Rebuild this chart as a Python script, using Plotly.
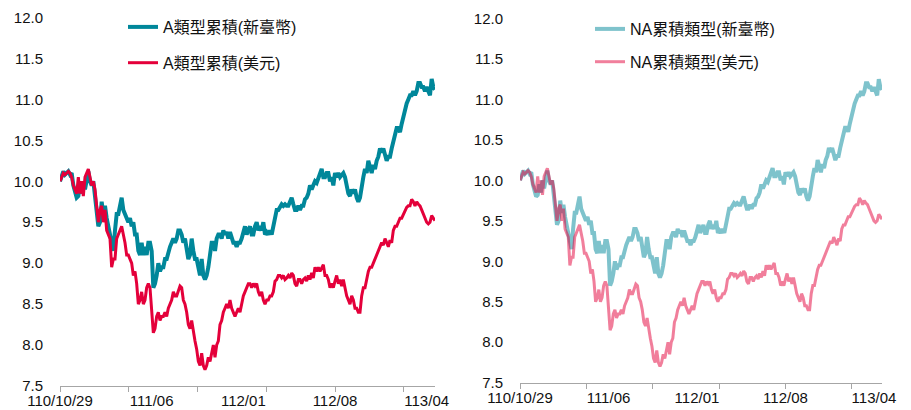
import plotly.graph_objects as go

a_twd = [
    10.0, 10.05, 10.12, 10.08, 10.1, 10.12, 10.08, 10.1, 9.95, 9.85,
    9.8, 9.82, 9.95, 9.85, 10.0, 9.9, 10.05, 10.12, 10.0, 9.95,
    10.0, 9.8, 9.6, 9.45, 9.5, 9.75, 9.6, 9.7, 9.55, 9.45,
    9.35, 9.3, 9.15, 9.4, 9.6, 9.6, 9.7, 9.8, 9.65, 9.6,
    9.55, 9.5, 9.55, 9.45, 9.5, 9.35, 9.35, 9.15, 9.1, 9.25,
    9.1, 9.2, 9.1, 9.25, 9.25, 9.15, 8.7, 8.75, 8.85, 9.0,
    8.9, 8.95, 8.95, 9.05, 9.05, 9.15, 9.2, 9.25, 9.3, 9.25,
    9.3, 9.4, 9.4, 9.35, 9.25, 9.3, 9.15, 9.05, 9.1, 9.3,
    9.15, 9.05, 9.05, 8.95, 8.85, 9.05, 8.85, 8.8, 8.85, 8.95,
    9.15, 9.25, 9.25, 9.15, 9.3, 9.35, 9.35, 9.3, 9.4, 9.35,
    9.38, 9.3, 9.38, 9.3, 9.25, 9.25, 9.2, 9.25, 9.25, 9.3,
    9.4, 9.45, 9.35, 9.4, 9.45, 9.35, 9.35, 9.45, 9.5, 9.4,
    9.45, 9.4, 9.5, 9.35, 9.38, 9.35, 9.4, 9.35, 9.45, 9.6,
    9.65, 9.65, 9.7, 9.72, 9.7, 9.72, 9.7, 9.7, 9.75, 9.8,
    9.72, 9.65, 9.65, 9.7, 9.65, 9.7, 9.7, 9.78, 9.8, 9.85,
    9.95, 9.9, 9.95, 10.0, 9.98, 10.05, 10.1, 10.15, 10.05, 10.05,
    10.1, 10.1, 10.0, 10.05, 9.95, 10.1, 10.05, 10.1, 10.05, 10.08,
    10.1, 10.05, 9.95, 9.85, 9.82, 9.9, 9.85, 9.9, 9.8, 9.75,
    9.8, 9.95, 10.05, 10.15, 10.1, 10.25, 10.15, 10.1, 10.2, 10.15,
    10.25, 10.3, 10.4, 10.35, 10.4, 10.3, 10.25, 10.3, 10.3, 10.4,
    10.5, 10.6, 10.65, 10.65, 10.6, 10.7, 10.8, 10.85, 10.95, 11.0,
    11.05, 11.05, 11.1, 11.05, 11.1, 11.2, 11.2, 11.15, 11.15, 11.1,
    11.15, 11.1, 11.05, 11.25, 11.15, 11.12,
]
a_usd = [
    10.0, 10.05, 10.1, 10.08, 10.1, 10.12, 10.1, 10.05, 9.95, 9.9,
    9.85, 10.05, 9.85, 10.0, 9.82, 10.05, 10.1, 10.15, 10.05, 9.95,
    10.0, 9.9, 9.7, 9.5, 9.65, 9.7, 9.5, 9.65, 9.4, 9.35,
    9.3, 8.95, 9.05, 9.05, 9.3, 9.35, 9.4, 9.45, 9.35, 9.25,
    9.1, 9.1, 9.05, 9.0, 8.85, 8.9, 8.75, 8.5, 8.55, 8.65,
    8.5, 8.55, 8.7, 8.75, 8.7, 8.4, 8.15, 8.2, 8.35, 8.4,
    8.3, 8.35, 8.35, 8.4, 8.35, 8.45, 8.5, 8.55, 8.65, 8.6,
    8.6, 8.65, 8.72, 8.7, 8.55, 8.5, 8.4, 8.25, 8.2, 8.3,
    8.15, 8.05, 7.95, 7.8, 7.75, 7.9, 7.75, 7.7, 7.75, 7.85,
    7.8, 7.9, 8.0, 7.85, 8.0, 8.05, 8.25, 8.3, 8.4, 8.45,
    8.5, 8.45, 8.55, 8.45, 8.4, 8.35, 8.4, 8.45, 8.4, 8.5,
    8.6, 8.65, 8.7, 8.75, 8.75, 8.7, 8.75, 8.72, 8.75, 8.65,
    8.6, 8.65, 8.55, 8.5, 8.55, 8.55, 8.6, 8.6, 8.65, 8.78,
    8.8, 8.85, 8.85, 8.82, 8.85, 8.8, 8.82, 8.85, 8.82, 8.88,
    8.85, 8.75, 8.72, 8.8, 8.8, 8.75, 8.8, 8.82, 8.78, 8.85,
    8.8, 8.88, 8.82, 8.95, 8.9, 8.95, 8.9, 8.95, 8.98, 8.85,
    8.85, 8.8, 8.7, 8.75, 8.7, 8.78, 8.85, 8.75, 8.8, 8.72,
    8.8, 8.7, 8.6, 8.55, 8.5, 8.6, 8.55, 8.45, 8.45, 8.4,
    8.4, 8.6, 8.7, 8.7, 8.8, 8.9, 8.95, 8.95, 9.0, 9.05,
    9.1, 9.15, 9.2, 9.25, 9.22, 9.3, 9.25, 9.2, 9.28, 9.25,
    9.4, 9.45, 9.45, 9.5, 9.55, 9.55, 9.6, 9.65, 9.68, 9.7,
    9.7, 9.78, 9.75, 9.7, 9.75, 9.72, 9.7, 9.65, 9.6, 9.55,
    9.5, 9.48, 9.5, 9.58, 9.55, 9.52,
]
# the NA share classes track the A share classes on the chart
na_twd = list(a_twd)
na_usd = list(a_usd)

x_labels = ["110/10/29", "111/06", "112/01", "112/08", "113/04"]
label_idx = [0, 55, 110, 165, 220]
tick_idx = [0, 41.25, 82.5, 123.75, 165, 206.25]

TEAL = "#00879A"
RED = "#E4003A"
FONT = "Arial, Liberation Sans, Noto Sans CJK TC, sans-serif"

xs = list(range(len(a_twd)))

fig = go.Figure()
fig.add_trace(go.Scatter(x=xs, y=a_twd, mode="lines", name="A類型累積(新臺幣)",
                         line=dict(color=TEAL, width=4), xaxis="x", yaxis="y",
                         legend="legend", legendgroup="g1"))
fig.add_trace(go.Scatter(x=xs, y=a_usd, mode="lines", name="A類型累積(美元)",
                         line=dict(color=RED, width=3), xaxis="x", yaxis="y",
                         legend="legend", legendgroup="g2"))
fig.add_trace(go.Scatter(x=xs, y=na_twd, mode="lines", name="NA累積類型(新臺幣)",
                         line=dict(color=TEAL, width=4), opacity=0.5,
                         xaxis="x2", yaxis="y2", legend="legend2", legendgroup="g3"))
fig.add_trace(go.Scatter(x=xs, y=na_usd, mode="lines", name="NA累積類型(美元)",
                         line=dict(color=RED, width=3), opacity=0.5,
                         xaxis="x2", yaxis="y2", legend="legend2", legendgroup="g4"))

# page has an 8px body margin; figure sized so it fills the 911x410 window
W, H = 903, 402
OFF = 8


def px(v):
    return (v - OFF) / W


def py(v):
    return (H - (v - OFF)) / H


def xaxis(domain, anchor):
    return dict(
        domain=domain, anchor=anchor, range=[0, len(a_twd) - 1],
        tickmode="array", tickvals=label_idx, ticktext=x_labels,
        ticks="", showgrid=False, zeroline=False, automargin=False,
        showline=True, linecolor="#A6A6A6", linewidth=1,
        ticklabelstandoff=1,
        tickfont=dict(size=15, color="#111111", family=FONT),
        minor=dict(tickmode="array", tickvals=tick_idx, ticks="outside",
                   ticklen=5, tickcolor="#A6A6A6", tickwidth=1, showgrid=False),
        fixedrange=True,
    )


def yaxis(domain, anchor):
    return dict(
        domain=domain, anchor=anchor, range=[7.5, 12.0], dtick=0.5,
        tick0=7.5, tickformat=".1f", showgrid=False, zeroline=False,
        showline=False, ticks="", ticklabelstandoff=16, automargin=False,
        tickfont=dict(size=15, color="#111111", family=FONT),
        fixedrange=True,
    )


fig.update_layout(
    width=W, height=H,
    margin=dict(l=0, r=0, t=0, b=0, autoexpand=False),
    paper_bgcolor="white", plot_bgcolor="white",
    font=dict(family=FONT, color="#111111"),
    xaxis=xaxis([px(60), px(435)], "y"),
    yaxis=yaxis([py(386), py(17.5)], "x"),
    xaxis2=xaxis([px(520), px(882)], "y2"),
    yaxis2=yaxis([py(382.7), py(18.5)], "x2"),
    legend=dict(x=px(123), y=py(10), xanchor="left", yanchor="top",
                bgcolor="rgba(0,0,0,0)", tracegroupgap=12,
                font=dict(size=16, color="#111111", family=FONT)),
    legend2=dict(x=px(590), y=py(12), xanchor="left", yanchor="top",
                 bgcolor="rgba(0,0,0,0)", tracegroupgap=9,
                 font=dict(size=16, color="#111111", family=FONT)),
    showlegend=True,
)

fig.write_html("out.html")
